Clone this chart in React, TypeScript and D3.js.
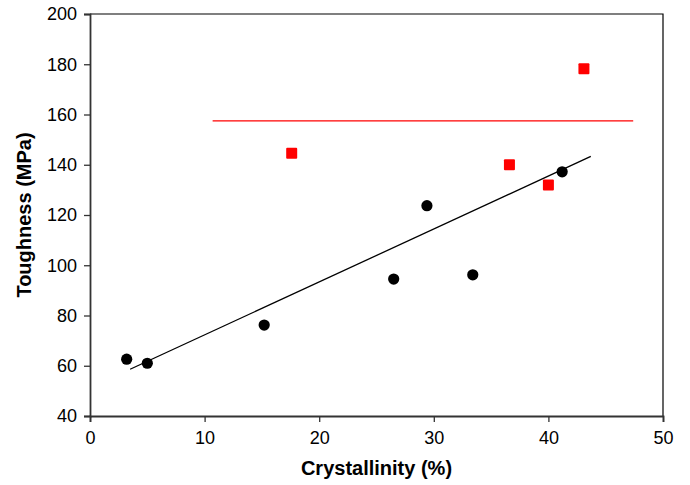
import { useEffect, useRef } from "react";
import * as d3 from "d3";

// crystallinity (%) vs toughness (MPa)
const blackX = [3.2, 5.0, 15.2, 26.5, 29.4, 33.4, 41.2];
const blackY = [62.6, 61.0, 76.2, 94.5, 123.7, 96.2, 137.2];
const redX = [17.6, 36.6, 40.0, 43.1];
const redY = [144.6, 140.0, 131.9, 178.2];
const fitX = [3.5, 43.7];
const fitY = [58.6, 143.3];
const refX = [10.7, 47.4];
const refY = [157.5, 157.5];
const xTicks = [0, 10, 20, 30, 40, 50];
const yTicks = [40, 60, 80, 100, 120, 140, 160, 180, 200];

export default function App() {
  const ref = useRef<SVGSVGElement>(null);

  useEffect(() => {
    const el = ref.current;
    if (!el) return;
    const W = 690;
    const H = 485;
    const M = { top: 14, right: 27, bottom: 69, left: 90 };

    d3.select(el).selectAll("*").remove();
    const svg = d3.select(el);

    const x = d3.scaleLinear().domain([0, 50]).range([M.left, W - M.right]);
    const y = d3.scaleLinear().domain([40, 200]).range([H - M.bottom, M.top]);
    const font = "'Liberation Sans', Arial, sans-serif";

    // frame top/right
    svg.append("path")
      .attr("d", `M${x(0)},${y(200)}H${x(50)}V${y(40)}`)
      .attr("fill", "none").attr("stroke", "#000").attr("stroke-width", 1.2);

    svg.append("g")
      .attr("transform", `translate(0,${y(40)})`)
      .call(d3.axisBottom(x).tickValues(xTicks).tickSize(6).tickPadding(9).tickFormat(d3.format("d")))
      .call((g) => g.select(".domain").attr("stroke", "#333").attr("stroke-width", 1.8))
      .call((g) => g.selectAll(".tick line").attr("stroke", "#333").attr("stroke-width", 1.3))
      .call((g) => g.selectAll(".tick text").attr("fill", "#000").style("font-size", "18px").style("font-family", font));

    svg.append("g")
      .attr("transform", `translate(${x(0)},0)`)
      .call(d3.axisLeft(y).tickValues(yTicks).tickSize(6).tickPadding(7).tickFormat(d3.format("d")))
      .call((g) => g.select(".domain").attr("stroke", "#333").attr("stroke-width", 1.8))
      .call((g) => g.selectAll(".tick line").attr("stroke", "#333").attr("stroke-width", 1.3))
      .call((g) => g.selectAll(".tick text").attr("fill", "#000").style("font-size", "18px").style("font-family", font));

    // fit line
    svg.append("path")
      .attr("d", d3.line<number>().x((d) => x(d)).y((_, i) => y(fitY[i]))(fitX))
      .attr("fill", "none").attr("stroke", "#000").attr("stroke-width", 1.3);

    // reference line
    svg.append("path")
      .attr("d", d3.line<number>().x((d) => x(d)).y((_, i) => y(refY[i]))(refX))
      .attr("fill", "none").attr("stroke", "#ff0000").attr("stroke-width", 1.3);

    svg.selectAll(".dot")
      .data(blackX).join("circle").attr("class", "dot")
      .attr("cx", (d) => x(d)).attr("cy", (_, i) => y(blackY[i]))
      .attr("r", 5.6).attr("fill", "#000");

    const s = 11;
    svg.selectAll(".sq")
      .data(redX).join("rect").attr("class", "sq")
      .attr("x", (d) => x(d) - s / 2).attr("y", (_, i) => y(redY[i]) - s / 2)
      .attr("width", s).attr("height", s).attr("rx", 1).attr("fill", "#ff0000");

    svg.append("text")
      .attr("x", (x(0) + x(50)) / 2).attr("y", 475)
      .attr("text-anchor", "middle")
      .style("font-family", font).style("font-size", "20px").style("font-weight", "bold")
      .text("Crystallinity (%)");

    svg.append("text")
      .attr("transform", `translate(31,${(y(40) + y(200)) / 2}) rotate(-90)`)
      .attr("text-anchor", "middle")
      .style("font-family", font).style("font-size", "20px").style("font-weight", "bold")
      .text("Toughness (MPa)");
  }, []);

  return (
    <svg ref={ref} width={690} height={485}
      style={{ position: "absolute", left: 0, top: 0, background: "#fff" }} />
  );
}
